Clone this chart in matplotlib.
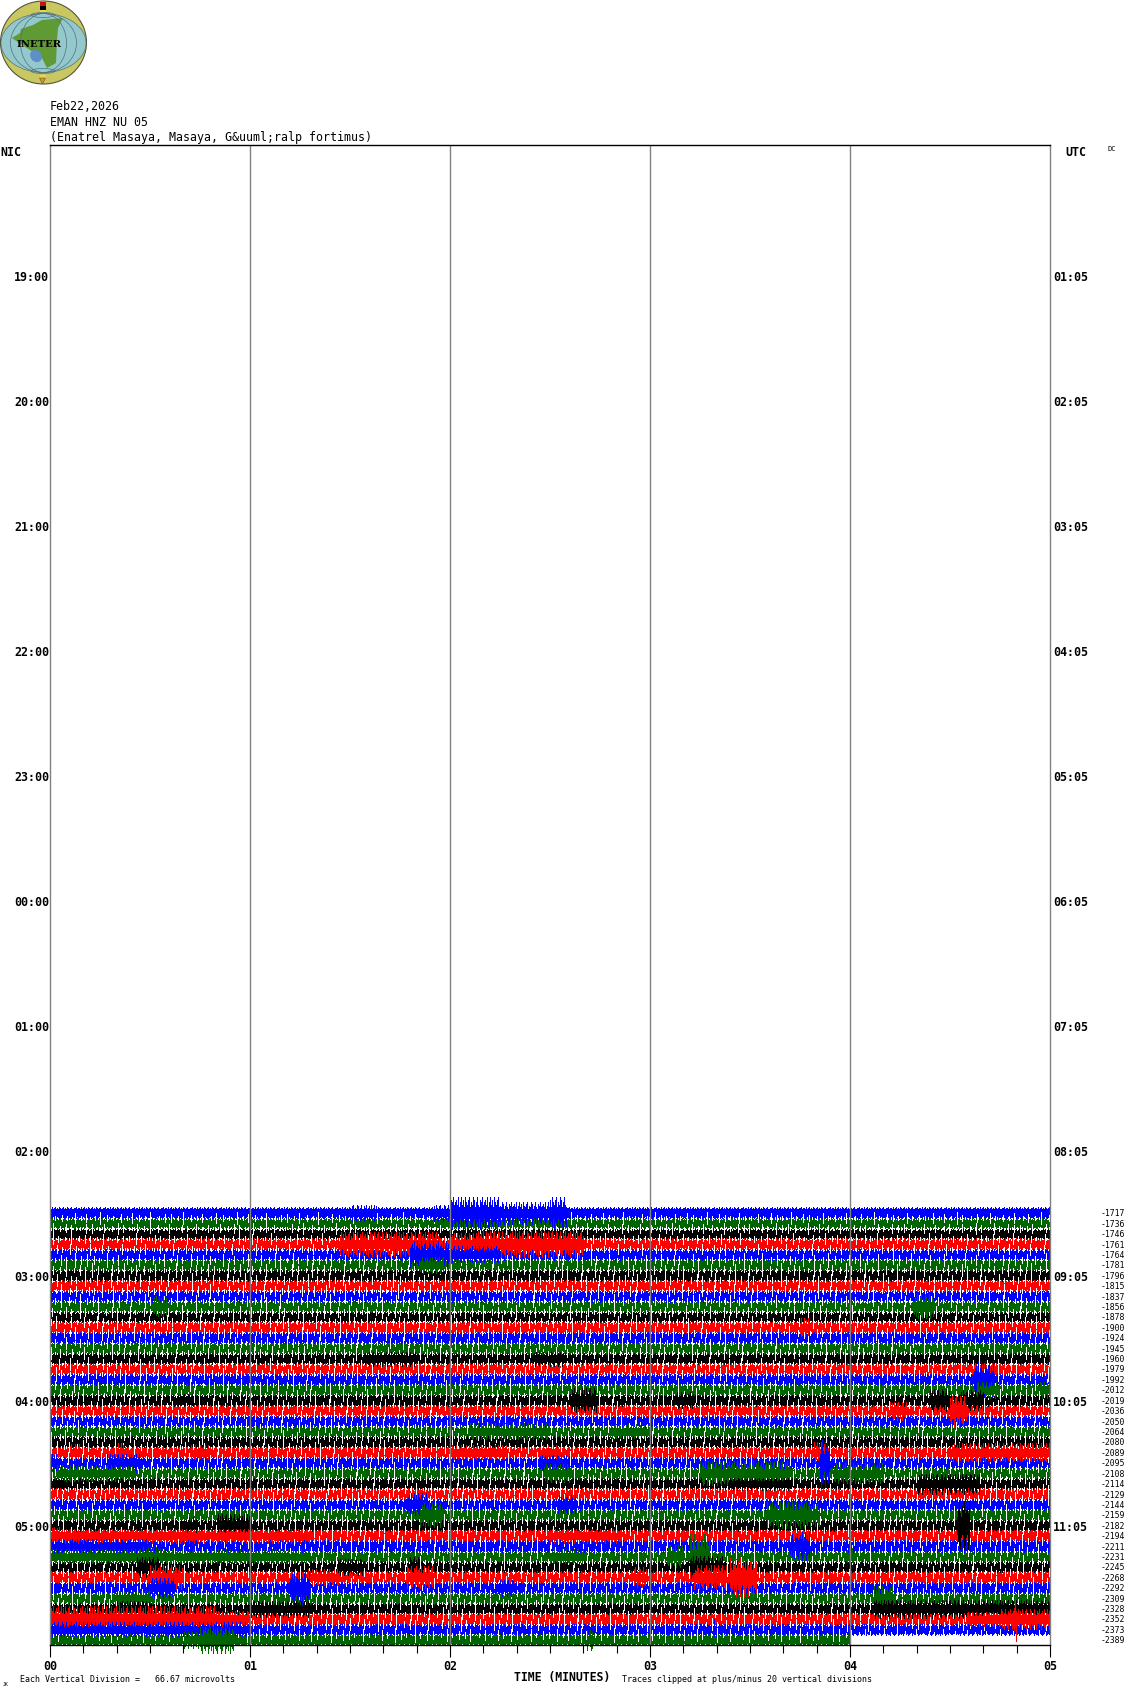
import numpy as np
import matplotlib
matplotlib.use('Agg')
import matplotlib.pyplot as plt
from matplotlib.patches import Ellipse, Polygon, Rectangle

# helicorder rows: labels on the right side, top to bottom
row_labels = [1717, 1736, 1746, 1761, 1764, 1781, 1796, 1815, 1837, 1856, 1878, 1900, 1924, 1945,
              1960, 1979, 1992, 2012, 2019, 2036, 2050, 2064, 2080, 2089, 2095, 2108, 2114, 2129,
              2144, 2159, 2182, 2194, 2211, 2231, 2245, 2268, 2292, 2309, 2328, 2352, 2373, 2389]
first_row = 102
row_colors = ['#0000ff', '#006400', '#000000', '#ff0000']
nic_hours = ['19:00', '20:00', '21:00', '22:00', '23:00', '00:00', '01:00', '02:00', '03:00', '04:00', '05:00']
utc_hours = ['01:05', '02:05', '03:05', '04:05', '05:05', '06:05', '07:05', '08:05', '09:05', '10:05', '11:05']
minute_labels = ['00', '01', '02', '03', '04', '05']

# quiet level of each row, half height in pixels
base_amp = [5.5, 5.0, 5.0, 5.5, 5.5, 5.5, 5.5, 5.5, 5.5, 5.5, 5.0, 5.5, 5.5, 5.5,
            5.5, 5.5, 5.5, 5.5, 5.5, 5.5, 5.5, 5.5, 5.5, 5.5, 5.5, 5.5, 5.5, 5.5,
            5.5, 5.5, 5.5, 6.0, 6.0, 5.5, 5.5, 6.0, 5.5, 5.5, 5.5, 6.0, 5.5, 5.5]
last_sample = [300] * 41 + [240]  # the last row stops at 4 minutes

# louder stretches: row number (0 = top), from s, to s, peak half height px
burst_row = [0, 0, 0, 0, 0, 3, 3, 3, 4, 4, 5, 9, 9, 11, 14, 14, 16, 17, 17, 18, 18, 18, 18, 18, 19, 19,
             21, 21, 21, 23, 23, 23, 23, 23, 23, 23, 24, 24, 24, 24, 25, 25, 25, 25, 25, 26, 26, 26, 28, 28,
             29, 29, 29, 30, 30, 30, 31, 31, 31, 32, 32, 32, 33, 33, 33, 33, 33, 33, 34, 34, 34, 34, 35, 35, 35, 35, 35,
             35, 36, 36, 36, 36, 37, 37, 38, 38, 38, 39, 39, 39, 39, 39, 40, 40, 41, 41, 41]
burst_start = [90, 115, 120, 135, 150, 87, 120, 127, 108, 120, 111, 31, 259, 225, 95, 145, 277, 278, 297, 38, 156, 188,
               273, 264, 252, 270, 126, 168, 175, 6, 20, 42, 120, 147, 229, 270, 0, 17, 147, 231, 2, 20, 148, 195, 235,
               0, 204, 260, 107, 152, 111, 215, 225, 50, 41, 272, 0, 150, 0, 0, 222, 225, 27, 0, 185, 192, 150, 239,
               26, 86, 108, 192, 30, 77, 107, 193, 204, 175, 30, 72, 75, 134, 20, 247, 20, 60, 247, 0, 50, 275, 285, 289, 0, 199, 45, 40, 161]
burst_end = [98, 120, 135, 150, 155, 117, 127, 160, 120, 135, 118, 35, 265, 228, 110, 154, 283, 285, 300, 43, 164, 193,
             280, 270, 257, 275, 150, 176, 180, 9, 22, 48, 137, 153, 233, 300, 2, 27, 156, 234, 20, 25, 156, 222, 250,
             4, 222, 279, 113, 158, 118, 228, 231, 60, 44, 276, 78, 170, 3, 30, 228, 228, 33, 78, 190, 198, 160, 241,
             33, 94, 111, 202, 40, 87, 115, 203, 212, 179, 37, 78, 77, 139, 30, 253, 30, 78, 300, 50, 60, 300, 300, 290, 60, 200, 55, 45, 163]
burst_amp = [8, 8, 16, 11, 16, 12, 11, 13, 13, 8, 8, 10, 12, 9, 7, 7, 18, 8, 8, 6, 12, 8,
             10, 11, 9, 15, 8, 7, 6, 8, 9, 7, 7, 7, 10, 9, 9, 9, 8, 24, 8, 7, 9, 12, 10,
             5, 6, 10, 11, 9, 12, 13, 11, 11, 8, 24, 7, 7, 9, 7, 12, 14, 9, 7, 11, 22, 7, 8,
             10, 8, 10, 11, 12, 8, 11, 12, 19, 10, 10, 17, 16, 8, 7, 12, 8, 8, 9, 13, 8, 7, 10, 22, 7, 10, 13, 8, 10]

W, H = 1130, 1689
fig = plt.figure(figsize=(W / 100, H / 100), dpi=100, facecolor='white')
ax = fig.add_axes([50 / W, 1 - 1645 / H, 1000 / W, 1500 / H])
ax.set_xlim(0, 300)
ax.set_ylim(143.5, -0.5)
px = 144 / 1500.0  # rows per pixel

mono = 'DejaVu Sans Mono'
LW = 0.72

# rendering texture only, not read sample by sample: saw shape of the band edges and the
# white teeth that run between rows
edge_a = [9, 7, 10, 6, 8, 10, 7, 9, 6, 10, 8, 7, 9, 10, 6, 8, 7, 10, 9, 6, 8, 10, 7, 6, 9, 8, 10, 7, 8]
edge_b = [7, 10, 8, 6, 9, 7, 10, 6, 8, 9, 10, 7, 6, 8, 10, 9, 7, 6, 10, 8, 7, 9, 6, 10, 7, 8, 9, 6, 10, 8, 7, 9, 10, 6, 8, 9, 7]
tooth_gap = [6, 7, 5, 8, 6, 5, 9, 5, 7, 6, 8, 6, 5, 7, 6, 5, 9, 6]
tooth_len = [2, 4, 3, 6, 2, 5, 3, 7, 4, 2, 5, 3, 6, 4, 2, 7, 3, 5, 4, 2, 6]

# one column per pixel, kept off the pixel borders so snapping never drops one
cols = (np.arange(1000) + 0.25) * 0.3
edge_a = np.array(edge_a) / 10.0
edge_b = np.array(edge_b) / 10.0
tooth_col = np.cumsum(tooth_gap) - 1
tooth_period = sum(tooth_gap)

amp_table = np.array([[base_amp[r]] * 1000 for r in range(len(row_labels))])
burst_table = np.zeros_like(amp_table)
for r, t0, t1, a in zip(burst_row, burst_start, burst_end, burst_amp):
    sel = (cols >= t0) & (cols < t1)
    burst_table[r, sel] = np.maximum(burst_table[r, sel], a)


def draw_band(r, amp, keep, sharp, z):
    y = first_row + r
    i = np.arange(1000)
    fa = edge_a[(i + r * 11) % len(edge_a)] ** sharp
    fb = edge_b[(i + r * 7) % len(edge_b)] ** sharp
    ax.vlines(cols[keep], y - (amp * fa * px)[keep], y + (amp * fb * px)[keep],
              color=row_colors[r % 4], lw=LW, antialiased=False, clip_on=False, zorder=z)


for r in range(len(row_labels)):
    draw_band(r, amp_table[r], cols < last_sample[r], 1, 2)

# teeth in the gap under each row, shifted along the period from row to row
for r in range(len(row_labels) - 1):
    tx, tl = [], []
    for k in range(10):
        for j, c in enumerate(tooth_col):
            cx = (c + r * 37) % tooth_period + k * tooth_period
            if cx < 1000:
                tx.append(cols[cx])
                tl.append(tooth_len[(j + k * 5 + r * 3) % len(tooth_len)])
    tl = np.array(tl) * px * (0.8 if r < 4 else 1.0)
    ym = first_row + r + 0.5
    ax.vlines(tx, ym - tl, ym + tl, color='white', lw=LW, antialiased=False, zorder=2.2)

# louder stretches sit on top of the teeth
for r in range(len(row_labels)):
    draw_band(r, burst_table[r], (burst_table[r] > 0) & (cols < last_sample[r]), 2, 2.5)

# minute lines go over the traces
for m in [60, 120, 180, 240]:
    ax.axvline(m, color='#808080', lw=1.0, zorder=3)
ax.spines['left'].set_color('#808080')
ax.spines['right'].set_color('#808080')
ax.spines['left'].set_linewidth(1.0)
ax.spines['right'].set_linewidth(1.0)
ax.spines['top'].set_linewidth(1.0)
ax.spines['bottom'].set_linewidth(1.0)
for s in ax.spines.values():
    s.set_zorder(4)

ax.set_xticks([0, 60, 120, 180, 240, 300])
ax.set_xticklabels(minute_labels, family=mono, weight='bold', fontsize=8.4)
ax.set_xticks(np.arange(0, 301, 10), minor=True)
ax.tick_params(axis='x', which='major', length=8.6, width=0.8, pad=2)
ax.tick_params(axis='x', which='minor', length=5.8, width=0.8)

hour_pos = [12.05 + 12 * i for i in range(len(nic_hours))]
ax.set_yticks(hour_pos)
ax.set_yticklabels(nic_hours, family=mono, weight='bold', fontsize=8.4)
ax.tick_params(axis='y', length=0, pad=0.5)

ax2 = ax.twinx()
ax2.set_ylim(ax.get_ylim())
ax2.set_yticks(hour_pos)
ax2.set_yticklabels(utc_hours, family=mono, weight='bold', fontsize=8.4)
ax2.tick_params(axis='y', length=0, pad=2)
for s in ax2.spines.values():
    s.set_visible(False)

# row numbers at the far right
for r, lab in enumerate(row_labels):
    ax.text(1.0505, first_row + r + 0.1, '-%d' % lab, transform=ax.get_yaxis_transform(),
            family=mono, fontsize=5.9, va='center', ha='left')


def ptext(x, y, s, size=8.4, weight='normal', ha='left'):
    fig.text(x / W, 1 - y / H, s, family=mono, fontsize=size, weight=weight, va='center', ha=ha)


ptext(50, 107, 'Feb22,2026')
ptext(50, 122, 'EMAN HNZ NU 05')
ptext(50, 137, '(Enatrel Masaya, Masaya, G&uuml;ralp fortimus)')
ptext(0, 152, 'NIC', weight='bold')
ptext(1065, 152, 'UTC', weight='bold')
ptext(1107, 149, 'DC', size=5)
ptext(3, 1684, 'JK', size=3.5)
ptext(20, 1679, 'Each Vertical Division =   66.67 microvolts', size=6)
ptext(514, 1678, 'TIME (MINUTES)', size=8.3, weight='bold')
ptext(622, 1679, 'Traces clipped at plus/minus 20 vertical divisions', size=6)

# INETER logo
logo = fig.add_axes([0, 1 - 88 / H, 88 / W, 88 / H])
logo.set_xlim(0, 88)
logo.set_ylim(88, 0)
logo.axis('off')
logo.add_patch(Ellipse((43.5, 42.5), 86, 83, fc='#c9c860', ec='#55553a', lw=0.8))
logo.add_patch(Ellipse((43.5, 43), 85, 59, fc='#93c8cc', ec='#55707a', lw=0.5))
logo.add_patch(Polygon([(12, 38), (20, 33), (21, 29), (33, 25), (42, 20), (63, 18), (58, 28), (57, 40),
                        (56, 63), (47, 68), (42, 58), (30, 50), (22, 45)], fc='#5f9a35', ec='none'))
logo.add_patch(Ellipse((36, 56), 11, 13, angle=-40, fc='#5d8fc8', ec='none'))
logo.add_patch(Ellipse((43.5, 43), 46, 59, fc='none', ec='#55707a', lw=0.5))
logo.add_patch(Ellipse((43.5, 43), 66, 59, fc='none', ec='#55707a', lw=0.5))
logo.add_patch(Ellipse((43, 15), 24, 5, fc='none', ec='#55707a', lw=0.5))
logo.add_patch(Ellipse((43, 71), 24, 5, fc='none', ec='#55707a', lw=0.5))
logo.add_patch(Rectangle((39.5, 2), 6, 4, fc='#d01010', ec='none'))
logo.add_patch(Rectangle((39.5, 6), 6, 4, fc='black', ec='none'))
logo.add_patch(Rectangle((39.5, 10), 6, 2, fc='#e8d840', ec='none'))
logo.add_patch(Rectangle((39.5, 75), 6, 3, fc='#e8d840', ec='none'))
logo.add_patch(Polygon([(39.5, 78), (45.5, 78), (42.5, 84)], fc='#d89040', ec='#55553a', lw=0.4))
logo.text(39.5, 44.5, 'INETER', family='DejaVu Serif', weight='bold', fontsize=7.2, ha='center', va='center')

fig.savefig('out.png', dpi=100)
